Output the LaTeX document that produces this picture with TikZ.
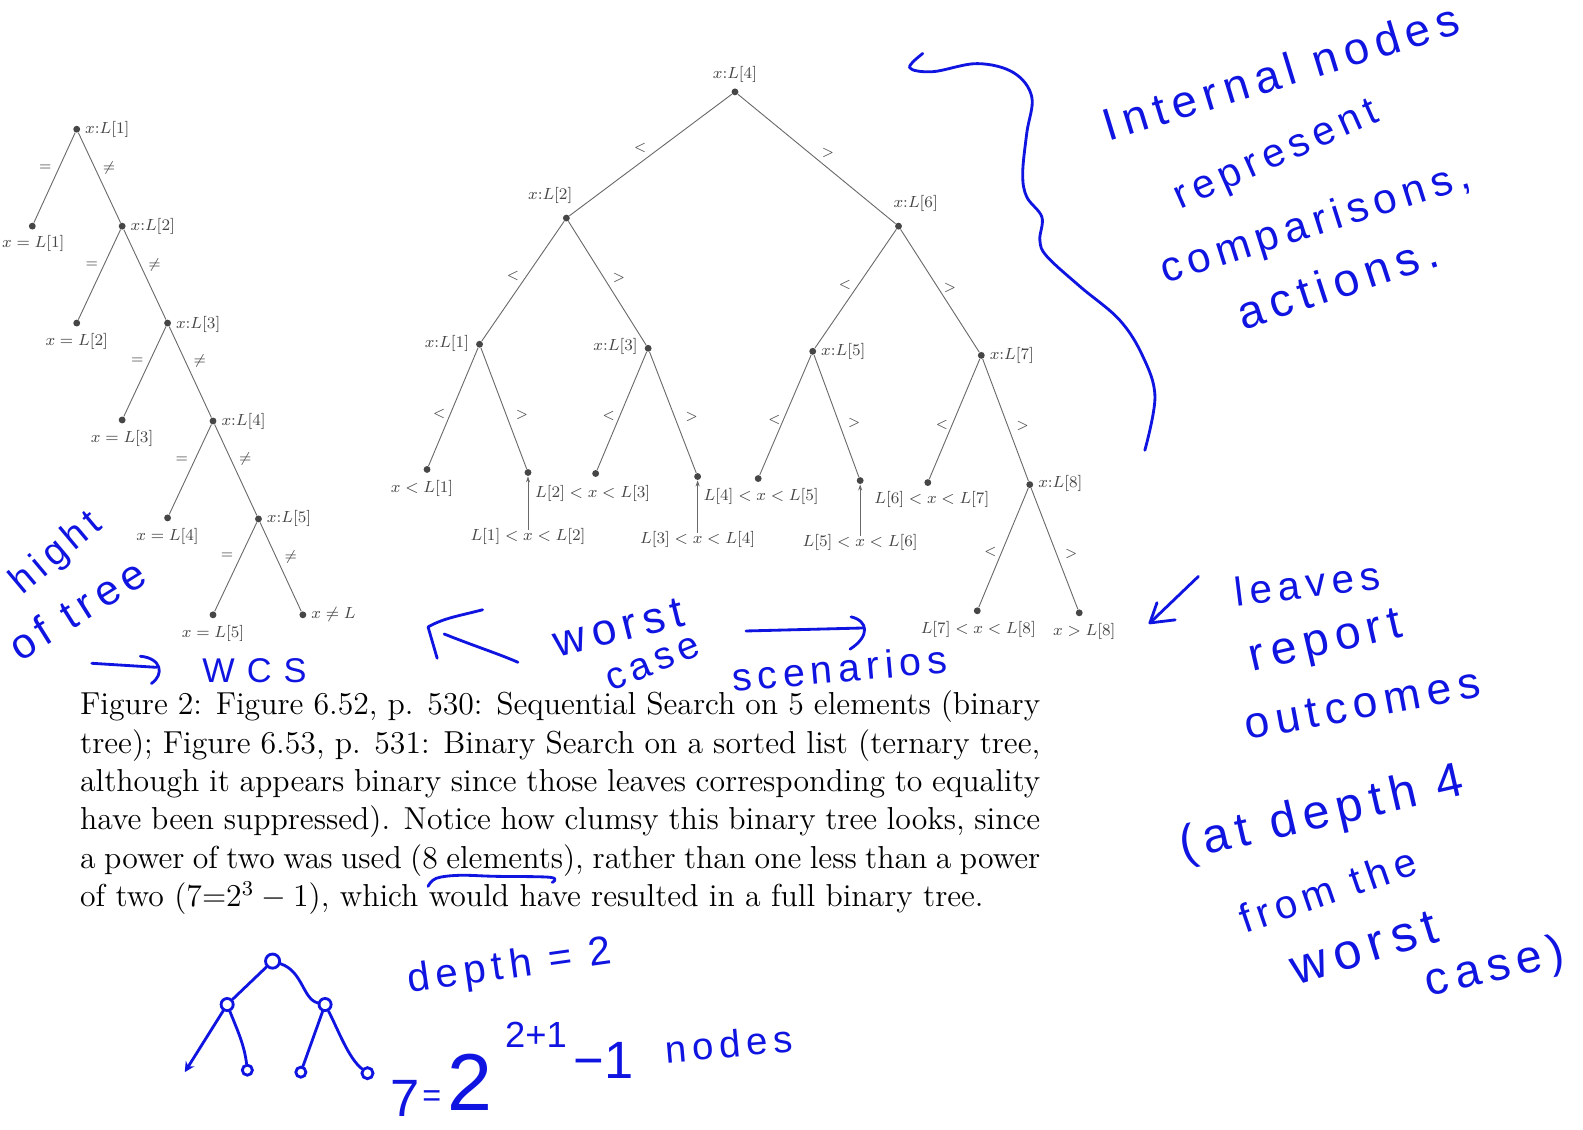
\documentclass[tikz,border=0pt]{standalone}
\usepackage{fontspec}
\usepackage{graphicx}
\usetikzlibrary{arrows.meta}
\newfontfamily\hand[LetterSpace=15]{Liberation Sans}
\newfontfamily\handn{Liberation Sans}
\definecolor{hblue}{RGB}{15,20,225}
\definecolor{tgray}{RGB}{70,70,70}
\definecolor{lgray}{RGB}{105,105,105}
\newcommand\hws[1]{\hand\fontsize{#1}{#1}\selectfont}
\newcommand\hwn[1]{\handn\fontsize{#1}{#1}\selectfont}
\begin{document}
\begin{tikzpicture}[x=0.5pt,y=-0.5pt,
  dot/.style={circle,fill=tgray,inner sep=0pt,minimum size=3.4pt},
  edge/.style={draw=lgray,line width=0.45pt},
  lbl/.style={text=tgray,inner sep=0pt,font=\fontsize{8.5}{10}\selectfont},
  elbl/.style={text=tgray,inner sep=0pt,font=\fontsize{7}{8}\selectfont},
  hw/.style={text=hblue,inner sep=0pt,anchor=base west},
  pen/.style={draw=hblue,line width=1.4pt,line cap=round,line join=round},
  hcirc/.style={circle,draw=hblue,line width=1.4pt,inner sep=0pt}]
\fill[white] (0,0) rectangle (1568,1119);
\useasboundingbox (0,0) rectangle (1568,1119);

% ---------- left tree (sequential search) ----------
\node[dot] (a1) at (76,128) {};
\node[dot] (e1) at (32,224) {};
\node[dot] (a2) at (121,224) {};
\node[dot] (e2) at (76,320) {};
\node[dot] (a3) at (166,320) {};
\node[dot] (e3) at (121,416) {};
\node[dot] (a4) at (211,417) {};
\node[dot] (e4) at (166,513) {};
\node[dot] (a5) at (256,514) {};
\node[dot] (e5) at (211,609) {};
\node[dot] (nn) at (300,609) {};
\foreach \p/\c in {a1/e1,a1/a2,a2/e2,a2/a3,a3/e3,a3/a4,a4/e4,a4/a5,a5/e5,a5/nn}
  \draw[edge] (\p) -- (\c);
\node[lbl,anchor=west] (a1l) at (84,128) {$x{:}L[1]$};
\node[lbl,anchor=west] (a2l) at (129,224) {$x{:}L[2]$};
\node[lbl,anchor=west] (a3l) at (174,321) {$x{:}L[3]$};
\node[lbl,anchor=west] (a4l) at (219,417) {$x{:}L[4]$};
\node[lbl,anchor=west] (a5l) at (264,514) {$x{:}L[5]$};
\node[lbl] (e1l) at (33,241) {$x = L[1]$};
\node[lbl] (e2l) at (76,338) {$x = L[2]$};
\node[lbl] (e3l) at (121,434) {$x = L[3]$};
\node[lbl] (e4l) at (166,531) {$x = L[4]$};
\node[lbl] (e5l) at (211,627) {$x = L[5]$};
\node[lbl,anchor=west] (nnl) at (308,609) {$x \neq L$};
\node[elbl] (q1) at (45,166) {$=$};
\node[elbl] (w1) at (108,166) {$\neq$};
\node[elbl] (q2) at (91,262) {$=$};
\node[elbl] (w2) at (153,262) {$\neq$};
\node[elbl] (q3) at (136,357) {$=$};
\node[elbl] (w3) at (198,358) {$\neq$};
\node[elbl] (q4) at (180,455) {$=$};
\node[elbl] (w4) at (243,455) {$\neq$};
\node[elbl] (q5) at (225,551) {$=$};
\node[elbl] (w5) at (288,552) {$\neq$};

% ---------- middle tree (binary search) ----------
\node[dot] (r) at (728,91) {};
\node[dot] (b2) at (561,216) {};
\node[dot] (b6) at (890,224) {};
\node[dot] (c1) at (475,341) {};
\node[dot] (c3) at (642,345) {};
\node[dot] (c5) at (805,348) {};
\node[dot] (c7) at (972,352) {};
\node[dot] (d1) at (423,465) {};
\node[dot] (d2) at (523,468) {};
\node[dot] (d3) at (590,469) {};
\node[dot] (d4) at (691,472) {};
\node[dot] (d5) at (751,474) {};
\node[dot] (d6) at (852,476) {};
\node[dot] (d7) at (919,478) {};
\node[dot] (c8) at (1020,480) {};
\node[dot] (f1) at (968,605) {};
\node[dot] (f2) at (1069,607) {};
\foreach \p/\c in {r/b2,r/b6,b2/c1,b2/c3,b6/c5,b6/c7,c1/d1,c1/d2,c3/d3,c3/d4,c5/d5,c5/d6,c7/d7,c7/c8,c8/f1,c8/f2}
  \draw[edge] (\p) -- (\c);
\node[lbl] (rl) at (728,74) {$x{:}L[4]$};
\node[lbl] (b2l) at (545,194) {$x{:}L[2]$};
\node[lbl] (b6l) at (907,202) {$x{:}L[6]$};
\node[lbl,anchor=east] (c1l) at (465,340) {$x{:}L[1]$};
\node[lbl,anchor=east] (c3l) at (632,343) {$x{:}L[3]$};
\node[lbl,anchor=west] (c5l) at (813,348) {$x{:}L[5]$};
\node[lbl,anchor=west] (c7l) at (980,352) {$x{:}L[7]$};
\node[lbl,anchor=west] (c8l) at (1028,479) {$x{:}L[8]$};
\node[lbl] (d1l) at (418,484) {$x < L[1]$};
\node[lbl] (d2l) at (523,531) {$L[1] < x < L[2]$};
\node[lbl] (d3l) at (587,489) {$L[2] < x < L[3]$};
\node[lbl] (d4l) at (691,534) {$L[3] < x < L[4]$};
\node[lbl] (d5l) at (754,492) {$L[4] < x < L[5]$};
\node[lbl] (d6l) at (852,537) {$L[5] < x < L[6]$};
\node[lbl] (d7l) at (923,495) {$L[6] < x < L[7]$};
\node[lbl] (f1l) at (969,623) {$L[7] < x < L[8]$};
\node[lbl] (f2l) at (1074,625) {$x > L[8]$};
\foreach \l/\d in {d2l/d2,d4l/d4,d6l/d6}
  \draw[edge,-{Stealth[length=3pt,width=2pt]}] ([yshift=-1pt]\l.north) -- (\d);
\node[elbl] (g1) at (634,147) {$<$};
\node[elbl] (h1) at (820,152) {$>$};
\node[elbl] (g2) at (508,273) {$<$};
\node[elbl] (h2) at (613,275) {$>$};
\node[elbl] (g3) at (837,282) {$<$};
\node[elbl] (h3) at (941,285) {$>$};
\node[elbl] (g4) at (435,410) {$<$};
\node[elbl] (h4) at (517,411) {$>$};
\node[elbl] (g5) at (603,412) {$<$};
\node[elbl] (h5) at (685,413) {$>$};
\node[elbl] (g6) at (767,416) {$<$};
\node[elbl] (h6) at (846,419) {$>$};
\node[elbl] (g7) at (933,421) {$<$};
\node[elbl] (h7) at (1013,422) {$>$};
\node[elbl] (g8) at (981,547) {$<$};
\node[elbl] (h8) at (1061,549) {$>$};

% ---------- caption ----------
\node[anchor=base west,inner sep=0pt] (cap) at (79,708) {\scalebox{1.311}{\parbox[t]{362.7pt}{\fontsize{12}{14.5}\selectfont
Figure 2: Figure 6.52, p. 530: Sequential Search on 5 elements (binary\linebreak
tree); Figure 6.53, p. 531: Binary Search on a sorted list (ternary tree,\linebreak
although it appears binary since those leaves corresponding to equality\linebreak
have been suppressed). Notice how clumsy this binary tree looks, since\linebreak
a power of two was used (8 elements), rather than one less than a power\linebreak
of two (7=$2^3-1$), which would have resulted in a full binary tree.}}};

% ---------- handwriting ----------
\node[hw,rotate=17,font={\hws{22.5}}] (hw1) at (1098,140) {Internal nodes};
\node[hw,rotate=24,font={\hws{20}}] (hw2) at (1169,208) {represent};
\node[hw,rotate=17.5,font={\hws{21}}] (hw3) at (1154,281) {comparisons,};
\node[hw,rotate=18,font={\hws{23}}] (hw4) at (1231,327) {actions.};
\draw[pen] plot[smooth,tension=0.6] coordinates {(914,53) (901,67) (924,71) (968,63) (1004,72) (1022,96) (1017,132) (1013,172) (1017,195) (1032,215) (1030,238) (1037,254) (1070,284) (1109,317) (1132,353) (1144,393) (1134,446)};

\draw[pen] (1187,571) -- (1139,617);
\draw[pen] (1146,597) -- (1139,617) -- (1164,614);
\node[hw,rotate=7,font={\hws{20}}] (hw5) at (1224,601) {leaves};
\node[hw,rotate=13,font={\hws{23}}] (hw6) at (1240,665) {report};
\node[hw,rotate=10.5,font={\hws{22}}] (hw7) at (1235,733) {outcomes};
\node[hw,rotate=13,font={\hws{24}}] (hw8) at (1172,852) {(at depth 4};
\node[hw,rotate=19,font={\hws{20}}] (hw9) at (1233,925) {from the};
\node[hw,rotate=17,font={\hws{25}}] (hw10) at (1284,976) {worst};
\node[hw,rotate=13,font={\hws{23}}] (hw11) at (1415,987) {case)};

\node[hw,rotate=40,font={\hws{19}}] (hw12) at (22,590) {hight};
\node[hw,rotate=32,font={\hws{21}}] (hw13) at (20,656) {of tree};
\draw[pen] (91,657) -- (155,661);
\draw[pen] (139,650) .. controls (160,652) and (163,668) .. (150,677);
\node[hw,font={\hws{17}}] (hw14) at (200,676) {W\hspace{6pt}C\hspace{6pt}S};

\draw[pen] (478,604) .. controls (455,610) and (440,612) .. (424,621) -- (433,652);
\draw[pen] (440,628) .. controls (470,640) and (495,648) .. (513,656);
\node[hw,rotate=14,font={\hws{22}}] (hw15) at (552,651) {worst};
\node[hw,rotate=22,font={\hws{19}}] (hw16) at (605,685) {case};
\draw[pen] (739,625) -- (856,622);
\draw[pen] (843,611) .. controls (860,615) and (862,630) .. (842,643);
\node[hw,rotate=5,font={\hws{19.5}}] (hw17) at (726,685) {scenarios};

\draw[pen] plot[smooth,tension=0.6] coordinates {(424,878) (432,870) (455,867) (490,868) (545,869) (547,874)};

% small hand-drawn tree
\node[hcirc,minimum size=7pt] (s0) at (270,952) {};
\node[hcirc,minimum size=6pt] (s1) at (225,995) {};
\node[hcirc,minimum size=6pt] (s2) at (322,995) {};
\coordinate (s3) at (183,1062);
\node[hcirc,minimum size=5pt] (s4) at (245,1060) {};
\node[hcirc,minimum size=5pt] (s5) at (298,1062) {};
\node[hcirc,minimum size=5.5pt] (s6) at (364,1063) {};
\draw[pen] (s0) -- (s1);
\draw[pen] (s0) .. controls (300,962) and (300,990) .. (s2);
\draw[pen,-{Stealth[length=5pt,width=5pt]}] (s1) -- (s3);
\draw[pen] (s1) .. controls (235,1020) and (242,1035) .. (s4);
\draw[pen] (s2) -- (s5);
\draw[pen] (s2) .. controls (335,1020) and (345,1048) .. (s6);

\node[hw,rotate=8,font={\hws{20}}] (hw18) at (405,983) {depth = 2};
\node[hw,font={\hwn{26}}] (hw19) at (386,1106) {7};
\node[hw,font={\hwn{16}}] (hw19b) at (418,1096) {=};
\node[hw,font={\hwn{40}}] (hw20) at (443,1100) {2};
\node[hw,font={\hwn{18}}] (hw21) at (500,1038) {2+1};
\node[hw,font={\hwn{26}}] (hw22) at (568,1068) {−1};
\node[hw,rotate=5,font={\hws{19}}] (hw23) at (660,1053) {nodes};
\end{tikzpicture}
\end{document}
